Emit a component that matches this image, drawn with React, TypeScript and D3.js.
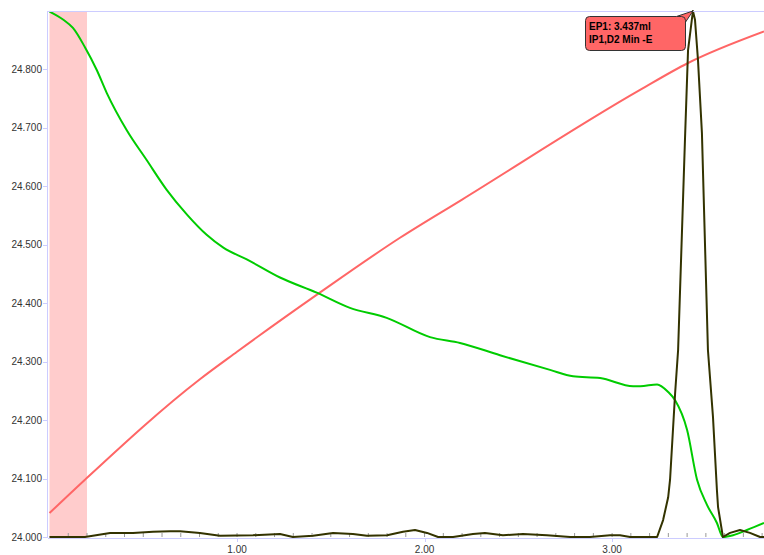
import React from "react";
import * as d3 from "d3";

const W = 764;
const H = 555;
const M = { left: 48, top: 11, right: 764, bottom: 537 };

const yTicks = [24.0, 24.1, 24.2, 24.3, 24.4, 24.5, 24.6, 24.7, 24.8];
const xMajor = [1, 2, 3];
const bandRange = [0, 0.2];

// Red curve (volume / dosing)
const redX = [0, 0.189, 0.802, 1.0, 1.432, 1.869, 2.198, 3.149, 3.405, 3.81];
const redY = [24.041, 24.098, 24.27, 24.317, 24.416, 24.512, 24.577, 24.765, 24.811, 24.865];

// Green curve (measured potential)
const greenX = [0, 0.074, 0.125, 0.189, 0.252, 0.305, 0.412, 0.518, 0.625, 0.732, 0.838, 0.927, 1.052, 1.229, 1.425, 1.602, 1.798, 2.029, 2.189, 2.402, 2.669, 2.792, 2.936, 3.112, 3.15, 3.24, 3.299, 3.336, 3.4, 3.453, 3.506, 3.559, 3.591, 3.645, 3.719, 3.81];
const greenY = [24.899, 24.885, 24.871, 24.838, 24.799, 24.76, 24.696, 24.645, 24.594, 24.552, 24.517, 24.495, 24.475, 24.444, 24.418, 24.392, 24.375, 24.342, 24.332, 24.311, 24.286, 24.275, 24.272, 24.258, 24.258, 24.261, 24.248, 24.234, 24.183, 24.098, 24.055, 24.024, 24.0, 24.003, 24.012, 24.024];

// Black curve (derivative)
const blackX = [0, 0.189, 0.323, 0.445, 0.552, 0.643, 0.696, 0.802, 0.909, 1.085, 1.229, 1.298, 1.405, 1.512, 1.618, 1.693, 1.8, 1.885, 1.949, 2.013, 2.072, 2.152, 2.258, 2.322, 2.418, 2.525, 2.653, 2.776, 2.882, 2.989, 3.042, 3.096, 3.24, 3.272, 3.299, 3.309, 3.336, 3.352, 3.389, 3.405, 3.431, 3.442, 3.458, 3.479, 3.511, 3.538, 3.559, 3.565, 3.591, 3.629, 3.682, 3.735, 3.789, 3.81];
const blackY = [24.0, 24.0, 24.007, 24.007, 24.009, 24.01, 24.01, 24.007, 24.002, 24.003, 24.005, 24.0, 24.002, 24.007, 24.005, 24.002, 24.003, 24.009, 24.012, 24.007, 24.0, 24.0, 24.005, 24.007, 24.003, 24.005, 24.003, 24.0, 24.0, 24.003, 24.003, 24.0, 24.0, 24.029, 24.068, 24.098, 24.246, 24.32, 24.684, 24.833, 24.9, 24.885, 24.816, 24.691, 24.32, 24.205, 24.08, 24.051, 24.0, 24.007, 24.012, 24.007, 24.0, 24.0];

const tipLines = ["EP1: 3.437ml", "IP1,D2 Min -E"];
const tipAt = [3.431, 24.9];

export default function App() {
  const x = d3.scaleLinear().domain([-0.008, 3.81]).range([M.left, M.right]);
  const y = d3.scaleLinear().domain([24.0, 24.9]).range([M.bottom, M.top]);

  const mk = (xs: number[], ys: number[], curve: any) =>
    d3
      .line<number>()
      .x((_, i) => x(xs[i]))
      .y((_, i) => y(ys[i]))
      .curve(curve)(xs) as string;

  const redPath = mk(redX, redY, d3.curveMonotoneX);
  const greenPath = mk(greenX, greenY, d3.curveMonotoneX);
  const blackPath = mk(blackX, blackY, d3.curveLinear);

  const minor = d3.range(1, 39).map((i) => i / 10);
  const font = "'Liberation Sans', Arial, sans-serif";
  const px = x(tipAt[0]);
  const py = y(tipAt[1]);

  return (
    <div style={{ position: "fixed", left: 0, top: 0 }}>
      <svg width={W} height={H} style={{ display: "block", background: "#fff" }}>
        <defs>
          <clipPath id="plot">
            <rect x={M.left} y={M.top - 1} width={M.right - M.left} height={M.bottom - M.top + 2} />
          </clipPath>
        </defs>
        <rect
          x={x(bandRange[0])}
          y={M.top}
          width={x(bandRange[1]) - x(bandRange[0])}
          height={M.bottom - M.top}
          fill="#ffcccc"
        />
        {/* minor x ticks */}
        {minor.map((v) => (
          <line key={"m" + v} x1={x(v)} x2={x(v)} y1={M.bottom} y2={M.bottom - 4} stroke="#999" strokeWidth={1} />
        ))}
        <g clipPath="url(#plot)">
          <path d={redPath} fill="none" stroke="#ff6666" strokeWidth={2} />
          <path d={greenPath} fill="none" stroke="#00cc00" strokeWidth={2} />
          <path d={blackPath} fill="none" stroke="#333300" strokeWidth={2} strokeLinejoin="round" />
        </g>
        {/* axes */}
        <line x1={M.left} x2={M.right} y1={M.top + 0.5} y2={M.top + 0.5} stroke="#ccccff" />
        <line x1={M.left - 0.5} x2={M.left - 0.5} y1={M.top} y2={M.bottom + 1} stroke="#ccccff" />
        <line x1={M.left} x2={M.right} y1={M.bottom + 1.5} y2={M.bottom + 1.5} stroke="#ccccff" />
        {yTicks.map((v) => (
          <g key={"y" + v}>
            <line x1={M.left - 5} x2={M.left} y1={Math.round(y(v)) + 0.5} y2={Math.round(y(v)) + 0.5} stroke="#ccccff" />
            <text x={M.left - 6} y={y(v) + 3.5} textAnchor="end" fontFamily={font} fontSize={10} fill="#333">
              {v.toFixed(3)}
            </text>
          </g>
        ))}
        {xMajor.map((v) => (
          <g key={"x" + v}>
            <line x1={Math.round(x(v)) + 0.5} x2={Math.round(x(v)) + 0.5} y1={M.bottom + 1} y2={M.bottom + 5} stroke="#ccccff" />
            <text x={x(v)} y={553} textAnchor="middle" fontFamily={font} fontSize={10} fill="#333">
              {v.toFixed(2)}
            </text>
          </g>
        ))}
        {/* tooltip */}
        <path
          d={`M${px - 18},${py + 6} L${px},${py} L${px - 8},${py + 12} Z`}
          fill="#ff6666"
          stroke="#333"
          strokeWidth={1}
        />
        <rect x={585.5} y={16.5} width={100} height={34} rx={4} ry={4} fill="#ff6666" stroke="#333" strokeWidth={1} />
        <path d={`M${px - 17},${py + 6.5} L${px - 8.5},${py + 11}`} stroke="#ff6666" strokeWidth={2} />
        {tipLines.map((t, i) => (
          <text key={t} x={589} y={30 + i * 13} fontFamily={font} fontSize={10} fontWeight="bold" fill="#000">
            {t}
          </text>
        ))}
      </svg>
    </div>
  );
}
